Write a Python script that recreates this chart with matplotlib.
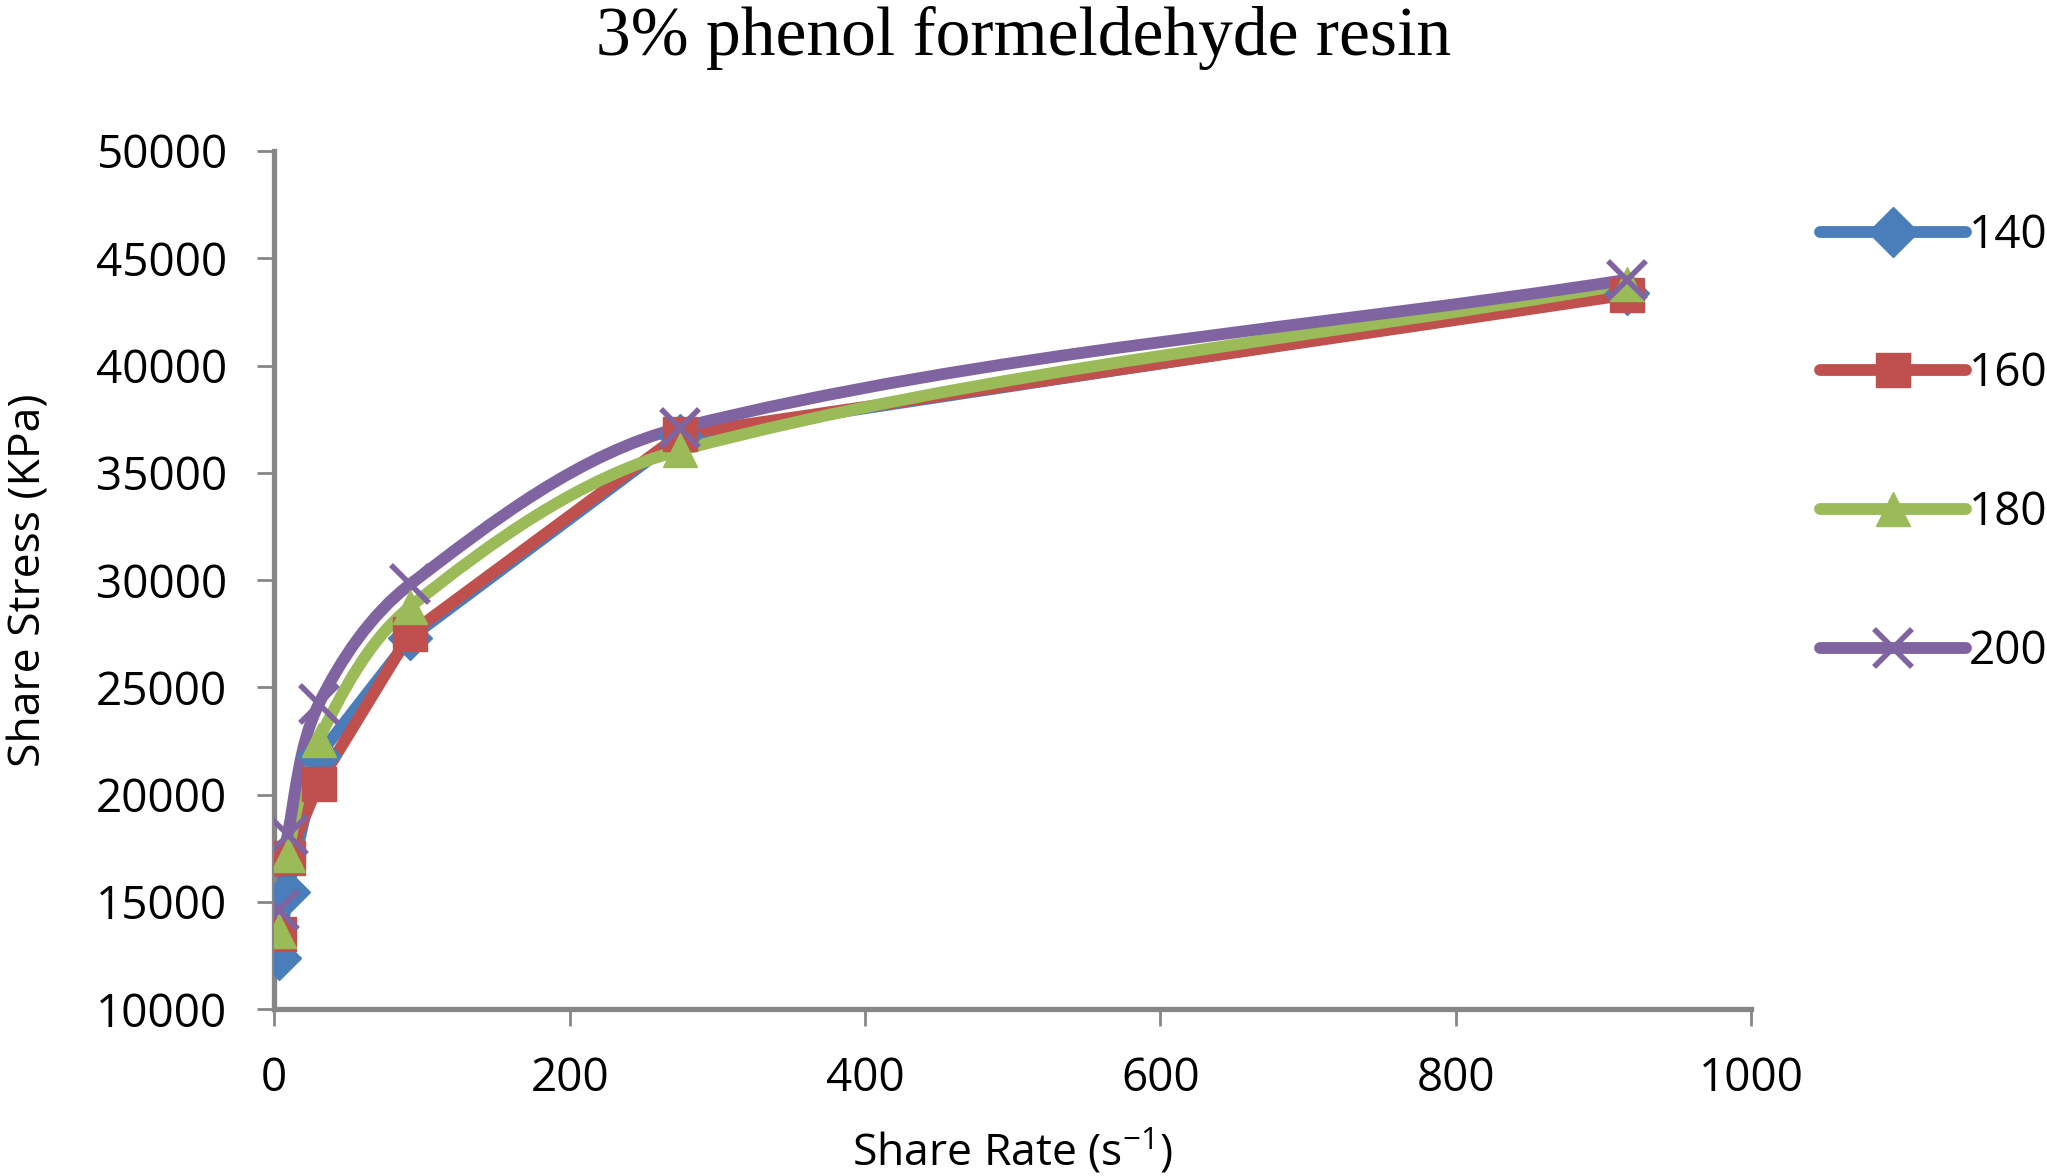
import numpy as np
import matplotlib.pyplot as plt
from matplotlib.path import Path
from matplotlib.patches import PathPatch
from matplotlib.lines import Line2D

# ---------------- data ----------------
share_rate = [3, 9, 30, 92, 275, 916]

stress_140 = [12400, 15450, 21800, 27300, 36700, 43400]
stress_160 = [13500, 17050, 20500, 27500, 36800, 43300]
stress_180 = [13650, 17200, 22550, 28750, 36050, 43800]
stress_200 = [14600, 18100, 24200, 29800, 37100, 44000]

labels = ["140", "160", "180", "200"]
colors = ["#4A7EBB", "#C0504D", "#9BBB59", "#8064A2"]
markers = ["D", "s", "^", "x"]
smooth = [False, False, True, True]   # green and purple were drawn smoothed
series = [stress_140, stress_160, stress_180, stress_200]

x_ticks = [0, 200, 400, 600, 800, 1000]
y_ticks = [10000, 15000, 20000, 25000, 30000, 35000, 40000, 45000, 50000]

xlim = (0, 1000)
ylim = (10000, 50000)


def smooth_path(xs, ys, k=0.33):
    # bezier through the points, tangents worked out in screen-like units
    sx = 1477 / (xlim[1] - xlim[0])
    sy = 858 / (ylim[1] - ylim[0])
    P = np.column_stack([(np.array(xs) - xlim[0]) * sx,
                         (np.array(ys) - ylim[0]) * sy])
    n = len(P)
    tang = []
    for i in range(n):
        d = P[min(i + 1, n - 1)] - P[max(i - 1, 0)]
        tang.append(d / np.hypot(*d))
    verts = [P[0]]
    codes = [Path.MOVETO]
    for i in range(n - 1):
        L = np.hypot(*(P[i + 1] - P[i]))
        verts += [P[i] + tang[i] * L * k, P[i + 1] - tang[i + 1] * L * k, P[i + 1]]
        codes += [Path.CURVE4] * 3
    V = np.array(verts)
    V[:, 0] = V[:, 0] / sx + xlim[0]
    V[:, 1] = V[:, 1] / sy + ylim[0]
    return Path(V, codes)


fig = plt.figure(figsize=(20.47, 11.76), dpi=100)
ax = fig.add_axes([0.134, 0.142, 0.7215, 0.7296])

lw = 8.5
for ys, col, mk, sm in zip(series, colors, markers, smooth):
    if sm:
        ax.add_patch(PathPatch(smooth_path(share_rate, ys), facecolor="none",
                               edgecolor=col, lw=lw, capstyle="round",
                               joinstyle="round", zorder=2))
    else:
        ax.plot(share_rate, ys, color=col, lw=lw, solid_capstyle="round",
                solid_joinstyle="round", zorder=2)
    if mk == "x":
        ax.plot(share_rate, ys, ls="none", marker=mk, ms=27, mew=4,
                color=col, zorder=3)
    else:
        ax.plot(share_rate, ys, ls="none", marker=mk, ms=25 if mk != "D" else 22,
                color=col, mec=col, zorder=3)

ax.set_xlim(*xlim)
ax.set_ylim(*ylim)
ax.set_xticks(x_ticks)
ax.set_yticks(y_ticks)

grey = "#868686"
for side in ["top", "right"]:
    ax.spines[side].set_visible(False)
for side in ["left", "bottom"]:
    ax.spines[side].set_color(grey)
    ax.spines[side].set_linewidth(3.8)
ax.tick_params(axis="both", colors=grey, width=2, length=12, direction="out",
               labelcolor="black", labelsize=33, pad=22)
for lab in ax.get_xticklabels() + ax.get_yticklabels():
    lab.set_fontfamily("Open Sans")

ax.set_xlabel("Share Rate (s$^{\\mathregular{-1}}$)", fontsize=32,
              fontfamily="Open Sans")
ax.set_ylabel("Share Stress (KPa)", fontsize=32, fontfamily="Open Sans")
ax.xaxis.set_label_coords(0.5, -0.138)
ax.yaxis.set_label_coords(-0.151, 0.5)

fig.suptitle("3% phenol formeldehyde resin", fontsize=50,
             fontfamily="Liberation Serif", x=0.5, y=0.995, va="top")

handles = [Line2D([0], [0], color=c, lw=lw, marker=m, ms=25 if m != "x" else 27,
                  mew=4 if m == "x" else 1, mec=c, solid_capstyle="round")
           for c, m in zip(colors, markers)]
fig.legend(handles, labels, loc="upper left", bbox_to_anchor=(0.889, 0.819),
           bbox_transform=fig.transFigure, frameon=False,
           prop={"family": "Open Sans", "size": 33}, handlelength=3.2,
           handletextpad=0.05, labelspacing=2.02, borderpad=0,
           borderaxespad=0)

fig.savefig("out.png", dpi=100)
